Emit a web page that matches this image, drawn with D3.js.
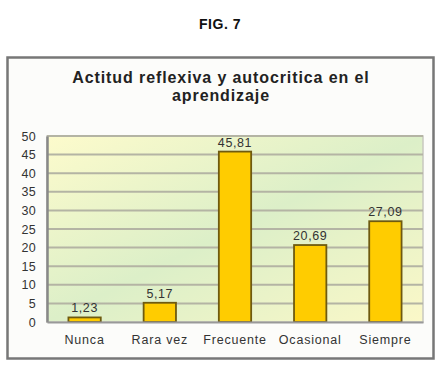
<!DOCTYPE html>
<html><head><meta charset="utf-8">
<script src="https://cdn.jsdelivr.net/npm/d3@7"></script>
<style>body{margin:0;background:#fff}svg{display:block}</style>
</head><body>
<script>
const categories = ["Nunca", "Rara vez", "Frecuente", "Ocasional", "Siempre"];
const values = [1.23, 5.17, 45.81, 20.69, 27.09];
const valueLabels = ["1,23", "5,17", "45,81", "20,69", "27,09"];
const yTicks = [0, 5, 10, 15, 20, 25, 30, 35, 40, 45, 50];
const figTitle = "FIG. 7";
const titleLines = ["Actitud reflexiva y autocritica en el", "aprendizaje"];

const W = 446, H = 378;
const svg = d3.select("body").append("svg").attr("width", W).attr("height", H);
const font = "Liberation Sans, Arial, sans-serif";

svg.append("text").attr("x", 220).attr("y", 29).attr("text-anchor", "middle")
  .attr("font-family", font).attr("font-weight", "bold").attr("font-size", 14)
  .attr("letter-spacing", 0.5).attr("fill", "#111").text(figTitle);

// outer frame
svg.append("rect").attr("x", 7.5).attr("y", 57.5).attr("width", 426).attr("height", 301)
  .attr("fill", "#fcfcfa").attr("stroke", "#777").attr("stroke-width", 2.5);

titleLines.forEach((t, i) => {
  svg.append("text").attr("x", 221).attr("y", 83 + i * 18).attr("text-anchor", "middle")
    .attr("font-family", font).attr("font-weight", "bold").attr("font-size", 16)
    .attr("letter-spacing", 0.9).attr("fill", "#222").text(t);
});

const m = {left: 47, right: 423, top: 136, bottom: 322};
const x = d3.scaleBand().domain(categories).range([m.left, m.right]).paddingInner(0.57).paddingOuter(0.285);
const y = d3.scaleLinear().domain([0, 50]).range([m.bottom, m.top]);

const defs = svg.append("defs");
const g = defs.append("linearGradient").attr("id", "bg").attr("x1", 0).attr("y1", 0).attr("x2", 1).attr("y2", 1);
g.append("stop").attr("offset", 0).attr("stop-color", "#fdfbcc");
g.append("stop").attr("offset", 0.5).attr("stop-color", "#dcefc8");
g.append("stop").attr("offset", 1).attr("stop-color", "#fbf8c8");

svg.append("rect").attr("x", m.left).attr("y", m.top).attr("width", m.right - m.left)
  .attr("height", m.bottom - m.top).attr("fill", "url(#bg)").attr("stroke", "#c8c8c0").attr("stroke-width", 1.5);

// gridlines
svg.append("g").selectAll("line").data(yTicks.filter(d => d > 0)).join("line")
  .attr("x1", m.left).attr("x2", m.right).attr("y1", d => y(d)).attr("y2", d => y(d))
  .attr("stroke", "#b4b4a4").attr("stroke-width", 2);

// y axis
const yAxis = svg.append("g").attr("transform", `translate(${m.left},0)`)
  .call(d3.axisLeft(y).tickValues(yTicks).tickSize(0).tickPadding(11));
yAxis.select(".domain").attr("stroke", "#888").attr("stroke-width", 2.5);
yAxis.selectAll("text").attr("font-family", font).attr("font-size", 12.5)
  .attr("letter-spacing", 0.3).attr("fill", "#333");

// bars
svg.append("g").selectAll("rect").data(values).join("rect")
  .attr("x", (d, i) => x(categories[i])).attr("width", x.bandwidth())
  .attr("y", d => y(d)).attr("height", d => y(0) - y(d))
  .attr("fill", "#ffcc00").attr("stroke", "#6e5a10").attr("stroke-width", 1.8);

// x axis
const xAxis = svg.append("g").attr("transform", `translate(0,${m.bottom})`)
  .call(d3.axisBottom(x).tickSize(0).tickPadding(13));
xAxis.select(".domain").attr("stroke", "#999").attr("stroke-width", 2);
xAxis.selectAll("text").attr("font-family", font).attr("font-size", 12.5)
  .attr("letter-spacing", 0.8).attr("fill", "#333");

// value labels
svg.append("g").selectAll("text").data(values).join("text")
  .attr("x", (d, i) => x(categories[i]) + x.bandwidth() / 2)
  .attr("y", d => y(d) - 5).attr("text-anchor", "middle")
  .attr("font-family", font).attr("font-size", 12.5).attr("letter-spacing", 0.6)
  .attr("fill", "#333").text((d, i) => valueLabels[i]);
</script>
</body></html>
